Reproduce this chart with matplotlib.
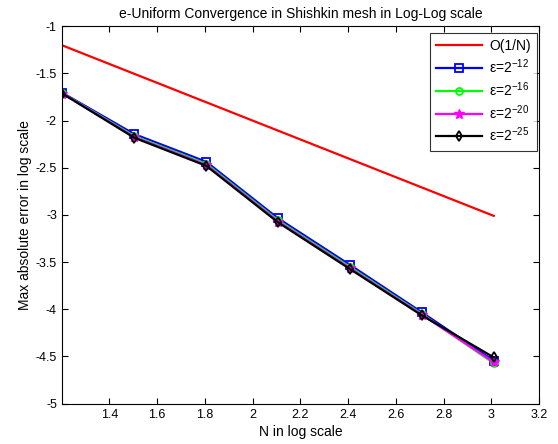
import numpy as np
import matplotlib
matplotlib.use("Agg")
import matplotlib.pyplot as plt

plt.rcParams['font.family'] = ['Liberation Sans', 'DejaVu Sans']
plt.rcParams['axes.unicode_minus'] = False
plt.rcParams['mathtext.fontset'] = 'custom'
plt.rcParams['mathtext.rm'] = 'Liberation Sans'
plt.rcParams['mathtext.it'] = 'Liberation Sans:italic'

# mesh sizes and max errors for each epsilon
N = np.array([16, 32, 64, 128, 256, 512, 1024])
err_12 = [-1.707, -2.144, -2.437, -3.037, -3.530, -4.033, -4.546]
err_16 = [-1.712, -2.165, -2.458, -3.058, -3.552, -4.050, -4.573]
err_20 = [-1.714, -2.175, -2.470, -3.070, -3.565, -4.058, -4.560]
err_25 = [-1.715, -2.183, -2.480, -3.080, -3.574, -4.065, -4.510]

x = np.log10(N)
ref = np.log10(1.0 / N)

fig = plt.figure(figsize=(5.58, 4.44), dpi=100)
ax = fig.add_axes([0.112, 0.091, 0.854, 0.850])

ax.plot(x, ref, color='red', lw=1.6, label='O(1/N)')
ax.plot(x, err_12, color='blue', lw=1.6, marker='s', ms=6, mfc='none', mew=1.3, label='ε=2$^{\\mathrm{-12}}$')
ax.plot(x, err_16, color='#00ff00', lw=1.6, marker='o', ms=5, mfc='none', mew=1.3, label='ε=2$^{\\mathrm{-16}}$')
ax.plot(x, err_20, color='magenta', lw=1.6, marker='*', ms=7, mew=1.0, label='ε=2$^{\\mathrm{-20}}$')
ax.plot(x, err_25, color='black', lw=1.6, marker='d', ms=5, mfc='none', mew=1.3, label='ε=2$^{\\mathrm{-25}}$')

ax.set_xlim(np.log10(16), 3.2)
ax.set_ylim(-5, -1)
ax.set_xticks(np.arange(1.4, 3.21, 0.2))
ax.set_xticklabels(['1.4', '1.6', '1.8', '2', '2.2', '2.4', '2.6', '2.8', '3', '3.2'])
ax.set_yticks(np.arange(-5, -0.99, 0.5))
ax.set_yticklabels(['-5', '-4.5', '-4', '-3.5', '-3', '-2.5', '-2', '-1.5', '-1'])
ax.tick_params(direction='in', top=True, right=True, labelsize=9, length=4, pad=4)

ax.set_title('e-Uniform Convergence in Shishkin mesh in Log-Log scale', fontsize=10, pad=6)
ax.set_xlabel('N in log scale', fontsize=10, labelpad=3)
ax.set_ylabel('Max absolute error in log scale', fontsize=10, labelpad=3)

leg = ax.legend(loc='upper right', bbox_to_anchor=(0.9624, 0.9257),
                bbox_transform=fig.transFigure, fontsize=10, fancybox=False,
                edgecolor='black', borderaxespad=0, handlelength=3.3,
                handletextpad=0.5, labelspacing=0.3, borderpad=0.45)
leg.get_frame().set_linewidth(0.8)

fig.savefig('out.png', dpi=100)
